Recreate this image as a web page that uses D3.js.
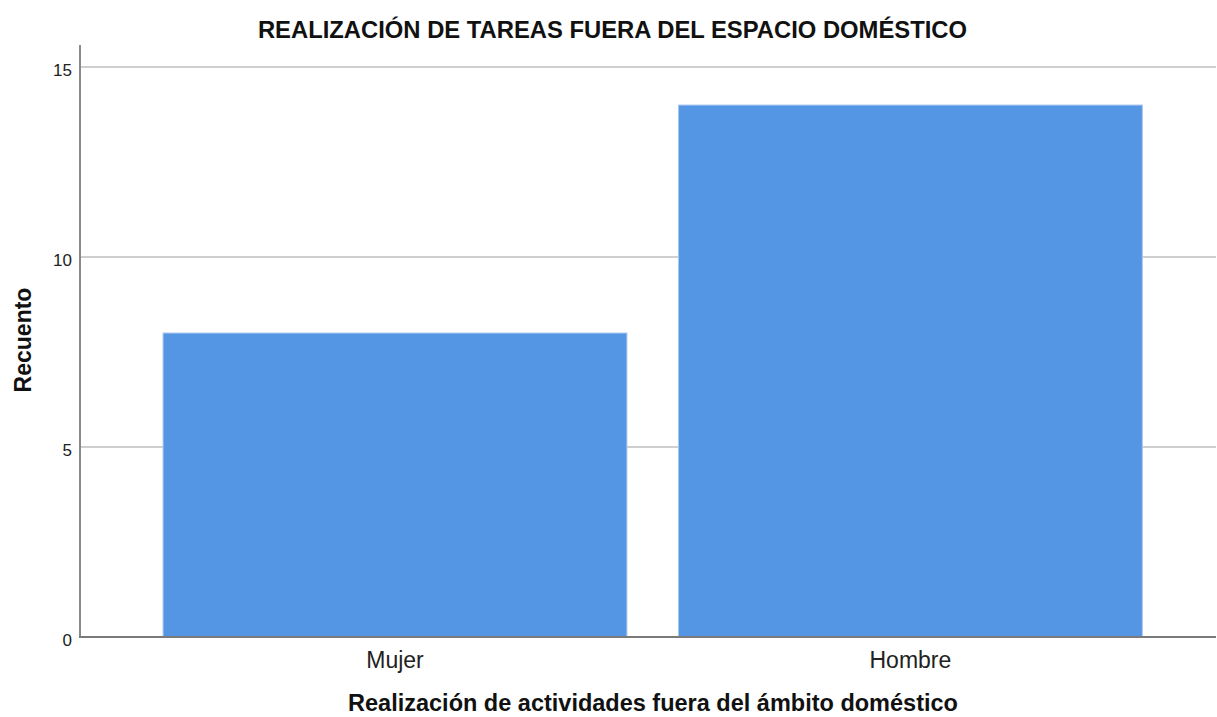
<!DOCTYPE html>
<html>
<head>
<meta charset="utf-8">
<script src="https://cdn.jsdelivr.net/npm/d3@7"></script>
<style>
  html, body { margin: 0; padding: 0; background: #fff; }
  svg { display: block; font-family: "Liberation Sans", Arial, sans-serif; }
</style>
</head>
<body>
<svg id="chart" width="1217" height="717"></svg>
<script>
// ─── Data ───
const categories = ['Mujer', 'Hombre'];
const counts = [8, 14];
const yTicks = [0, 5, 10, 15];

const titleText = 'REALIZACIÓN DE TAREAS FUERA DEL ESPACIO DOMÉSTICO';
const xTitle = 'Realización de actividades fuera del ámbito doméstico';
const yTitle = 'Recuento';

// ─── Layout ───
const plot = { left: 80, right: 1216, top: 45, bottom: 637 };

const svg = d3.select('#chart');

const x = d3.scaleBand()
    .domain(categories)
    .range([plot.left, plot.right])
    .paddingInner(0.1)
    .paddingOuter(0.152)
    .align(0.53);

const y = d3.scaleLinear()
    .domain([0, 15.58])
    .range([plot.bottom, plot.top]);

// gridlines
svg.append('g')
    .selectAll('line')
    .data(yTicks.filter(t => t > 0))
    .join('line')
    .attr('x1', plot.left)
    .attr('x2', plot.right)
    .attr('y1', d => y(d))
    .attr('y2', d => y(d))
    .attr('stroke', '#cfcfcf')
    .attr('stroke-width', 2);

// bars
svg.append('g')
    .selectAll('rect')
    .data(categories.map((c, i) => ({ c, v: counts[i] })))
    .join('rect')
    .attr('x', d => x(d.c))
    .attr('y', d => y(d.v))
    .attr('width', x.bandwidth())
    .attr('height', d => y(0) - y(d.v))
    .attr('fill', '#5596e4')
    .attr('stroke', '#a9c8f0')
    .attr('stroke-width', 1);

// y axis
const yAxis = svg.append('g')
    .attr('transform', `translate(${plot.left},0)`)
    .call(d3.axisLeft(y).tickValues(yTicks).tickSize(0).tickPadding(8));
yAxis.select('.domain').attr('stroke', '#8a8a8a').attr('stroke-width', 2)
    .attr('d', `M0,${plot.top}V${plot.bottom + 1}`);
yAxis.selectAll('text')
    .attr('font-size', 17)
    .attr('font-family', '"Liberation Sans", Arial, sans-serif')
    .attr('fill', '#222')
    .attr('dy', '0.5em');

// x axis
const xAxis = svg.append('g')
    .attr('transform', `translate(0,${plot.bottom})`)
    .call(d3.axisBottom(x).tickSize(0).tickPadding(15));
xAxis.select('.domain').attr('stroke', '#7a7a7a').attr('stroke-width', 2)
    .attr('d', `M${plot.left - 1},0H${plot.right}`);
xAxis.selectAll('text')
    .attr('font-size', 23)
    .attr('font-family', '"Liberation Sans", Arial, sans-serif')
    .attr('fill', '#222');

// titles
svg.append('text')
    .attr('x', 612.5)
    .attr('y', 38)
    .attr('text-anchor', 'middle')
    .attr('font-size', 23.8)
    .attr('font-weight', 'bold')
    .attr('fill', '#111')
    .text(titleText);

svg.append('text')
    .attr('x', 653)
    .attr('y', 711)
    .attr('text-anchor', 'middle')
    .attr('font-size', 23.5)
    .attr('font-weight', 'bold')
    .attr('fill', '#111')
    .text(xTitle);

svg.append('text')
    .attr('transform', 'translate(31,340) rotate(-90)')
    .attr('text-anchor', 'middle')
    .attr('font-size', 23)
    .attr('font-weight', 'bold')
    .attr('fill', '#111')
    .text(yTitle);
</script>
</body>
</html>
